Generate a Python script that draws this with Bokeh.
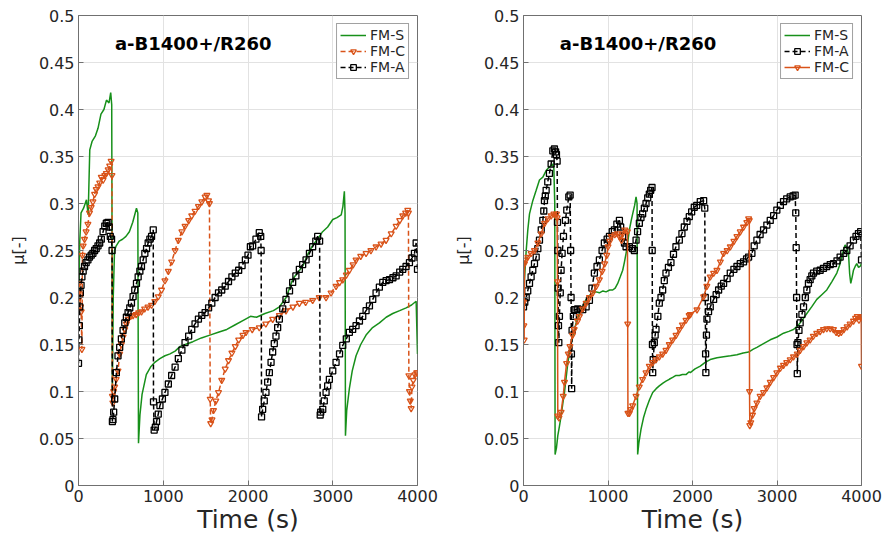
from bokeh.plotting import figure
from bokeh.layouts import row
from bokeh.models import (FixedTicker, Label, Legend, LegendItem, Range1d, ColumnDataSource)
from bokeh.embed import file_html
from bokeh.resources import INLINE

# ---------------- data ----------------
PANEL_TITLE = "a-B1400+/R260"
X_TICKS = [0, 1000, 2000, 3000, 4000]
Y_TICKS = [0, 0.05, 0.1, 0.15, 0.2, 0.25, 0.3, 0.35, 0.4, 0.45, 0.5]
Y_TICK_LABELS = ["0", "0.05", "0.1", "0.15", "0.2", "0.25", "0.3", "0.35", "0.4", "0.45", "0.5"]

# Left panel, FM-S
L_S_T = [0, 15, 30, 60, 94, 114, 133, 160, 200, 230, 265, 300, 330, 360, 380, 392, 400, 410, 425, 445,
         480, 520, 560, 600, 640, 684, 700, 708, 725, 750, 800, 850, 900, 960, 1020, 1080, 1140, 1200,
         1260, 1350, 1450, 1550, 1650, 1750, 1850, 1950, 2030, 2100, 2200, 2300, 2370, 2450, 2530, 2600,
         2650, 2700, 2760, 2820, 2880, 2940, 3000, 3050, 3100, 3120, 3137, 3145, 3150, 3165, 3196, 3230,
         3275, 3330, 3393, 3470, 3551, 3630, 3708, 3790, 3866, 3930, 3984, 4000]
L_S_MU = [0.19, 0.26, 0.29, 0.295, 0.304, 0.288, 0.357, 0.366, 0.372, 0.38, 0.395, 0.4, 0.41, 0.407, 0.418,
          0.405, 0.1, 0.2, 0.25, 0.255, 0.26, 0.262, 0.265, 0.27, 0.28, 0.295, 0.29, 0.045, 0.075, 0.097,
          0.118, 0.126, 0.131, 0.135, 0.138, 0.14, 0.143, 0.148, 0.15, 0.153, 0.157, 0.16, 0.163, 0.166,
          0.171, 0.176, 0.18, 0.179, 0.183, 0.186, 0.19, 0.2, 0.22, 0.228, 0.234, 0.245, 0.255, 0.262, 0.27,
          0.275, 0.283, 0.285, 0.288, 0.297, 0.313, 0.29, 0.053, 0.08, 0.103, 0.122, 0.138, 0.15, 0.16,
          0.168, 0.173, 0.179, 0.183, 0.186, 0.189, 0.192, 0.196, 0.14]

# Left panel, FM-C
L_C_T = [0, 8, 16, 24, 32, 40, 46, 55, 71, 90, 111, 130, 150, 170, 190, 209, 230, 250, 269, 290, 310, 328,
         350, 368, 385, 395, 400, 405, 415, 427, 445, 466, 486, 506, 526, 546, 565, 585, 615, 644, 680, 710,
         743, 780, 820, 862, 900, 941, 980, 1020, 1060, 1099, 1140, 1178, 1220, 1257, 1300, 1336, 1375,
         1415, 1455, 1494, 1515, 1534, 1545, 1554, 1560, 1575, 1593, 1620, 1652, 1690, 1731, 1770, 1810,
         1850, 1890, 1940, 1976, 2050, 2133, 2210, 2291, 2370, 2448, 2530, 2606, 2680, 2763, 2840, 2921,
         2980, 3039, 3080, 3118, 3160, 3196, 3240, 3275, 3330, 3393, 3450, 3511, 3570, 3629, 3690, 3748,
         3790, 3826, 3860, 3885, 3893, 3898, 3905, 3915, 3925, 3935, 3950, 3970, 3990, 4000]
L_C_MU = [0.205, 0.215, 0.2, 0.19, 0.185, 0.145, 0.245, 0.255, 0.262, 0.27, 0.278, 0.29, 0.296, 0.302,
          0.31, 0.315, 0.318, 0.322, 0.328, 0.325, 0.33, 0.332, 0.336, 0.34, 0.345, 0.33, 0.095, 0.088, 0.1,
          0.105, 0.113, 0.122, 0.14, 0.15, 0.158, 0.166, 0.172, 0.177, 0.18, 0.181, 0.182, 0.184, 0.185,
          0.188, 0.19, 0.192, 0.196, 0.201, 0.208, 0.218, 0.228, 0.238, 0.25, 0.261, 0.27, 0.276, 0.282,
          0.287, 0.292, 0.297, 0.302, 0.307, 0.309, 0.303, 0.3, 0.092, 0.066, 0.07, 0.08, 0.09, 0.099, 0.112,
          0.124, 0.133, 0.141, 0.148, 0.155, 0.16, 0.163, 0.166, 0.168, 0.172, 0.177, 0.181, 0.186, 0.19,
          0.194, 0.195, 0.197, 0.2, 0.2, 0.205, 0.212, 0.216, 0.219, 0.224, 0.229, 0.235, 0.24, 0.244, 0.247,
          0.25, 0.254, 0.257, 0.261, 0.268, 0.276, 0.282, 0.287, 0.29, 0.293, 0.29, 0.117, 0.1, 0.09, 0.082,
          0.105, 0.112, 0.118, 0.12, 0.12]

# Left panel, FM-A
L_A_T = [0, 5, 10, 15, 22, 30, 40, 55, 71, 90, 111, 130, 150, 170, 190, 209, 230, 250, 269, 290, 310, 328,
         348, 362, 375, 390, 396, 400, 407, 415, 427, 447, 466, 486, 506, 526, 546, 565, 585, 605, 625, 644,
         664, 684, 704, 724, 743, 763, 783, 803, 822, 842, 862, 882, 885, 893, 907, 921, 941, 961, 990,
         1020, 1060, 1099, 1140, 1178, 1220, 1257, 1300, 1336, 1375, 1415, 1455, 1494, 1535, 1573, 1612,
         1652, 1690, 1731, 1770, 1810, 1850, 1890, 1930, 1969, 2000, 2028, 2055, 2094, 2133, 2150, 2155,
         2160, 2173, 2192, 2212, 2232, 2252, 2272, 2291, 2310, 2330, 2350, 2370, 2410, 2448, 2490, 2527,
         2565, 2606, 2645, 2685, 2725, 2763, 2800, 2822, 2845, 2852, 2858, 2882, 2900, 2921, 2940, 2960,
         3000, 3039, 3080, 3118, 3160, 3196, 3235, 3275, 3315, 3354, 3393, 3433, 3472, 3511, 3550, 3590,
         3630, 3669, 3710, 3748, 3790, 3826, 3865, 3905, 3935, 3964, 3984, 4000]
L_A_MU = [0.13, 0.155, 0.17, 0.19, 0.205, 0.213, 0.222, 0.228, 0.233, 0.237, 0.24, 0.243, 0.245, 0.247,
          0.25, 0.252, 0.255, 0.258, 0.262, 0.27, 0.276, 0.279, 0.28, 0.275, 0.265, 0.262, 0.25, 0.068, 0.07,
          0.078, 0.092, 0.12, 0.138, 0.147, 0.156, 0.165, 0.173, 0.179, 0.184, 0.189, 0.194, 0.201, 0.208,
          0.215, 0.222, 0.228, 0.233, 0.24, 0.247, 0.252, 0.258, 0.262, 0.265, 0.272, 0.089, 0.059, 0.062,
          0.068, 0.076, 0.085, 0.092, 0.099, 0.108, 0.117, 0.126, 0.135, 0.144, 0.152, 0.159, 0.166, 0.172,
          0.177, 0.181, 0.184, 0.189, 0.194, 0.2, 0.205, 0.208, 0.212, 0.217, 0.222, 0.226, 0.229, 0.234,
          0.24, 0.245, 0.254, 0.255, 0.262, 0.269, 0.265, 0.25, 0.073, 0.081, 0.09, 0.099, 0.11, 0.12,
          0.131, 0.142, 0.151, 0.159, 0.168, 0.177, 0.188, 0.198, 0.207, 0.216, 0.223, 0.23, 0.235, 0.24,
          0.247, 0.254, 0.26, 0.265, 0.26, 0.075, 0.078, 0.081, 0.09, 0.099, 0.106, 0.113, 0.122, 0.131,
          0.14, 0.149, 0.156, 0.163, 0.166, 0.17, 0.175, 0.18, 0.186, 0.191, 0.198, 0.205, 0.211, 0.216,
          0.218, 0.219, 0.221, 0.223, 0.227, 0.23, 0.233, 0.237, 0.242, 0.247, 0.258, 0.23]

# Right panel, FM-S
R_S_T = [0, 12, 32, 51, 71, 110, 150, 189, 229, 268, 307, 347, 359, 370, 374, 390, 406, 425, 445, 465, 485,
         505, 524, 550, 583, 620, 662, 700, 741, 780, 820, 860, 898, 940, 977, 1020, 1056, 1085, 1115, 1145,
         1174, 1195, 1214, 1235, 1253, 1275, 1292, 1315, 1332, 1344, 1351, 1365, 1391, 1420, 1450, 1490,
         1529, 1570, 1607, 1650, 1686, 1725, 1765, 1800, 1844, 1880, 1923, 1960, 1974, 2030, 2092, 2150,
         2210, 2290, 2368, 2450, 2526, 2600, 2664, 2720, 2762, 2840, 2920, 3000, 3077, 3140, 3195, 3235,
         3274, 3315, 3353, 3410, 3471, 3530, 3589, 3650, 3708, 3740, 3767, 3785, 3806, 3830, 3846, 3860,
         3873, 3890, 3905, 3925, 3944, 3965, 3983, 4000]
R_S_MU = [0.19, 0.22, 0.25, 0.272, 0.289, 0.303, 0.314, 0.325, 0.328, 0.335, 0.339, 0.342, 0.338, 0.3,
          0.033, 0.04, 0.053, 0.063, 0.074, 0.087, 0.099, 0.115, 0.13, 0.145, 0.159, 0.172, 0.183, 0.19,
          0.198, 0.202, 0.205, 0.206, 0.205, 0.207, 0.206, 0.208, 0.208, 0.21, 0.215, 0.222, 0.229, 0.238,
          0.247, 0.26, 0.272, 0.282, 0.289, 0.298, 0.307, 0.3, 0.033, 0.045, 0.06, 0.072, 0.081, 0.091,
          0.099, 0.103, 0.106, 0.109, 0.111, 0.113, 0.115, 0.117, 0.117, 0.118, 0.118, 0.121, 0.12, 0.124,
          0.127, 0.131, 0.134, 0.136, 0.137, 0.138, 0.139, 0.141, 0.142, 0.145, 0.147, 0.151, 0.155, 0.158,
          0.162, 0.164, 0.166, 0.169, 0.173, 0.178, 0.183, 0.19, 0.198, 0.203, 0.208, 0.217, 0.226, 0.234,
          0.243, 0.25, 0.256, 0.252, 0.247, 0.225, 0.215, 0.222, 0.229, 0.233, 0.236, 0.232, 0.233, 0.236]

# Right panel, FM-A
R_A_T = [0, 15, 32, 50, 71, 90, 110, 130, 150, 170, 189, 210, 229, 240, 248, 258, 268, 287, 307, 327, 347,
         366, 380, 390, 398, 402, 406, 410, 414, 418, 425, 435, 445, 457, 473, 496, 512, 536, 552, 558, 563,
         567, 570, 575, 590, 603, 620, 642, 670, 701, 741, 780, 810, 839, 870, 898, 930, 957, 990, 1017,
         1050, 1076, 1105, 1135, 1150, 1174, 1195, 1214, 1253, 1290, 1312, 1332, 1350, 1371, 1390, 1410,
         1430, 1450, 1470, 1489, 1505, 1521, 1523, 1526, 1529, 1535, 1548, 1558, 1568, 1590, 1607, 1627,
         1647, 1666, 1686, 1715, 1745, 1775, 1804, 1844, 1875, 1903, 1935, 1962, 1990, 2021, 2050, 2092,
         2132, 2145, 2151, 2155, 2158, 2165, 2171, 2190, 2210, 2250, 2280, 2309, 2340, 2368, 2410, 2447,
         2490, 2526, 2565, 2604, 2640, 2664, 2703, 2730, 2762, 2800, 2841, 2880, 2920, 2960, 2998, 3040,
         3077, 3115, 3156, 3190, 3215, 3222, 3227, 3232, 3237, 3240, 3248, 3260, 3274, 3295, 3314, 3335,
         3353, 3372, 3392, 3412, 3432, 3470, 3511, 3550, 3589, 3630, 3668, 3710, 3747, 3790, 3826, 3865,
         3905, 3935, 3964, 3990, 4000]
R_A_MU = [0.19, 0.195, 0.2, 0.207, 0.215, 0.222, 0.229, 0.236, 0.243, 0.252, 0.261, 0.272, 0.282, 0.292,
          0.303, 0.308, 0.314, 0.323, 0.332, 0.342, 0.356, 0.358, 0.355, 0.352, 0.345, 0.28, 0.25, 0.21,
          0.17, 0.152, 0.18, 0.205, 0.229, 0.247, 0.265, 0.282, 0.293, 0.307, 0.309, 0.25, 0.2, 0.14, 0.103,
          0.165, 0.18, 0.187, 0.187, 0.188, 0.187, 0.187, 0.19, 0.197, 0.21, 0.226, 0.233, 0.24, 0.25, 0.258,
          0.262, 0.265, 0.27, 0.272, 0.278, 0.282, 0.275, 0.265, 0.258, 0.254, 0.254, 0.252, 0.25, 0.261,
          0.27, 0.279, 0.285, 0.289, 0.295, 0.3, 0.306, 0.31, 0.314, 0.317, 0.25, 0.15, 0.12, 0.134, 0.152,
          0.16, 0.166, 0.18, 0.194, 0.2, 0.208, 0.218, 0.226, 0.232, 0.237, 0.246, 0.254, 0.261, 0.268,
          0.275, 0.281, 0.286, 0.291, 0.296, 0.298, 0.302, 0.303, 0.295, 0.2, 0.14, 0.12, 0.16, 0.177, 0.185,
          0.19, 0.198, 0.203, 0.208, 0.212, 0.215, 0.22, 0.226, 0.23, 0.233, 0.236, 0.238, 0.241, 0.243,
          0.247, 0.255, 0.261, 0.267, 0.272, 0.277, 0.282, 0.287, 0.293, 0.298, 0.302, 0.305, 0.307, 0.308,
          0.309, 0.29, 0.253, 0.2, 0.15, 0.119, 0.152, 0.165, 0.173, 0.182, 0.19, 0.2, 0.208, 0.215, 0.219,
          0.223, 0.226, 0.228, 0.229, 0.231, 0.233, 0.235, 0.236, 0.239, 0.243, 0.247, 0.25, 0.255, 0.261,
          0.265, 0.268, 0.27, 0.24]

# Right panel, FM-C
R_C_T = [0, 4, 8, 12, 25, 51, 90, 130, 170, 210, 250, 290, 327, 360, 390, 398, 402, 406, 420, 445, 470,
         485, 510, 530, 550, 580, 600, 640, 662, 700, 741, 780, 820, 860, 898, 930, 960, 985, 1000, 1020,
         1040, 1080, 1110, 1135, 1160, 1174, 1200, 1230, 1233, 1236, 1253, 1270, 1292, 1332, 1370, 1410,
         1450, 1489, 1530, 1568, 1607, 1647, 1686, 1725, 1765, 1805, 1844, 1880, 1923, 1960, 1974, 2053,
         2132, 2170, 2210, 2250, 2289, 2330, 2368, 2410, 2447, 2490, 2526, 2565, 2604, 2643, 2664, 2672,
         2675, 2678, 2690, 2710, 2730, 2762, 2800, 2841, 2880, 2920, 2960, 2998, 3040, 3077, 3115, 3156,
         3195, 3240, 3274, 3315, 3353, 3392, 3430, 3470, 3510, 3550, 3589, 3630, 3668, 3700, 3730, 3760,
         3791, 3830, 3865, 3905, 3930, 3950, 3970, 3990, 3997, 4000]
R_C_MU = [0.195, 0.17, 0.155, 0.236, 0.24, 0.243, 0.247, 0.25, 0.258, 0.268, 0.279, 0.284, 0.287, 0.289,
          0.289, 0.285, 0.217, 0.074, 0.072, 0.078, 0.095, 0.11, 0.13, 0.14, 0.148, 0.16, 0.166, 0.175,
          0.18, 0.188, 0.194, 0.2, 0.205, 0.212, 0.219, 0.228, 0.236, 0.245, 0.254, 0.26, 0.265, 0.267,
          0.268, 0.265, 0.261, 0.268, 0.272, 0.27, 0.172, 0.077, 0.077, 0.081, 0.085, 0.095, 0.105, 0.113,
          0.12, 0.127, 0.131, 0.134, 0.137, 0.14, 0.144, 0.15, 0.155, 0.16, 0.166, 0.171, 0.176, 0.181,
          0.182, 0.187, 0.201, 0.212, 0.222, 0.226, 0.229, 0.238, 0.247, 0.25, 0.254, 0.26, 0.265, 0.27,
          0.275, 0.28, 0.284, 0.282, 0.1, 0.064, 0.067, 0.075, 0.082, 0.088, 0.095, 0.099, 0.104, 0.11,
          0.115, 0.12, 0.125, 0.128, 0.131, 0.134, 0.137, 0.14, 0.144, 0.148, 0.152, 0.155, 0.159, 0.162,
          0.164, 0.166, 0.167, 0.167, 0.166, 0.163, 0.162, 0.163, 0.166, 0.169, 0.172, 0.175, 0.178, 0.18,
          0.176, 0.18, 0.179, 0.127]

# ---------------- style ----------------
GREEN = "#17901a"
ORANGE = "#d95319"
BLACK = "#000000"
TXT = "#262626"
AX = "#707070"
FONT = "DejaVu Sans"


def style_axis(ax):
    ax.axis_line_color = AX
    ax.major_tick_line_color = AX
    ax.minor_tick_line_color = None
    ax.major_tick_in = 5
    ax.major_tick_out = 0
    ax.major_label_text_font = FONT
    ax.major_label_text_font_size = "16px"
    ax.major_label_text_color = TXT
    ax.major_label_standoff = 4


def make_panel(width, left_border, right_border, series):
    p = figure(width=width, height=537, x_range=Range1d(0, 4000), y_range=Range1d(0, 0.5),
               output_backend="svg", toolbar_location=None,
               min_border_left=left_border, min_border_right=right_border,
               min_border_top=15, min_border_bottom=52)
    p.outline_line_color = AX
    p.background_fill_color = "white"
    p.border_fill_color = "white"
    p.xaxis.ticker = FixedTicker(ticks=X_TICKS)
    p.yaxis.ticker = FixedTicker(ticks=Y_TICKS)
    p.yaxis.major_label_overrides = {t: s for t, s in zip(Y_TICKS, Y_TICK_LABELS)}
    for ax in p.xaxis + p.yaxis:
        style_axis(ax)
    p.xaxis.axis_label = "Time (s)"
    p.xaxis.axis_label_text_font = FONT
    p.xaxis.axis_label_text_font_size = "25px"
    p.xaxis.axis_label_text_font_style = "normal"
    p.xaxis.axis_label_text_color = TXT
    p.xaxis.axis_label_standoff = 0
    p.yaxis.axis_label = "μ[-]"
    p.yaxis.axis_label_text_font = FONT
    p.yaxis.axis_label_text_font_size = "16px"
    p.yaxis.axis_label_text_font_style = "normal"
    p.yaxis.axis_label_text_color = TXT
    p.yaxis.axis_label_standoff = 8

    p.xgrid.ticker = FixedTicker(ticks=X_TICKS)
    p.ygrid.ticker = FixedTicker(ticks=Y_TICKS)
    p.xgrid.grid_line_color = "#e2e2e2"
    p.ygrid.grid_line_color = "#e2e2e2"

    items = {}
    for name, t, mu, color, dash, marker in series:
        src = ColumnDataSource(dict(t=t, mu=mu))
        rs = [p.line("t", "mu", source=src, line_color=color, line_width=1.5, line_dash=dash)]
        if marker is not None:
            rs.append(p.scatter("t", "mu", source=src, marker=marker, size=6, line_color=color,
                                fill_color=None, line_width=1.3))
        items[name] = rs
    return p, items


def finish(p, items, order):
    leg = Legend(items=[LegendItem(label=n, renderers=items[n]) for n in order],
                 location="top_right")
    leg.label_text_font = FONT
    leg.label_text_font_size = "14px"
    leg.label_text_color = TXT
    leg.glyph_width = 26
    leg.glyph_height = 14
    leg.label_height = 14
    leg.label_standoff = 4
    leg.padding = 3
    leg.spacing = 0
    leg.margin = 8
    leg.border_line_color = "#444444"
    leg.border_line_width = 1
    leg.background_fill_color = "white"
    leg.background_fill_alpha = 1
    p.add_layout(leg)
    p.add_layout(Label(x=430, y=0.47, text=PANEL_TITLE, text_font=FONT, text_font_size="18px",
                       text_font_style="bold", text_color=BLACK, text_baseline="middle"))


p1, it1 = make_panel(445, 78, 28, [
    ("FM-S", L_S_T, L_S_MU, GREEN, "solid", None),
    ("FM-C", L_C_T, L_C_MU, ORANGE, "5 3", "inverted_triangle"),
    ("FM-A", L_A_T, L_A_MU, BLACK, "5 3", "square"),
])
finish(p1, it1, ["FM-S", "FM-C", "FM-A"])

p2, it2 = make_panel(441, 78, 25, [
    ("FM-S", R_S_T, R_S_MU, GREEN, "solid", None),
    ("FM-A", R_A_T, R_A_MU, BLACK, "5 3", "square"),
    ("FM-C", R_C_T, R_C_MU, ORANGE, "solid", "inverted_triangle"),
])
finish(p2, it2, ["FM-S", "FM-A", "FM-C"])

layout = row(p1, p2)
open("out.html", "w").write(file_html(layout, INLINE))
